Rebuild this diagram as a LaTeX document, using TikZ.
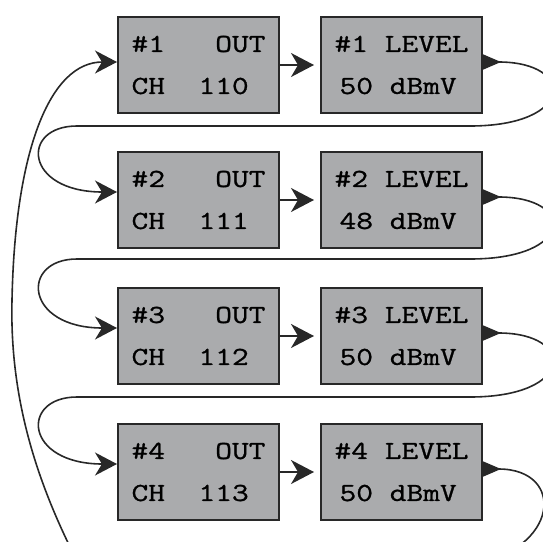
\documentclass[tikz,border=0pt]{standalone}
\usepackage{fontspec}
\usetikzlibrary{arrows.meta}
\setmonofont[FakeStretch=1.25,FakeBold=1]{Latin Modern Mono}
\definecolor{boxgray}{RGB}{170,171,173}
\definecolor{linegray}{RGB}{40,40,40}

\tikzset{
  chbox/.style={draw=linegray, line width=2pt, fill=boxgray,
    minimum width=161pt, minimum height=96pt, inner sep=0pt, align=left,
    font=\ttfamily\fontsize{26}{42}\selectfont},
  feed/.style={draw=linegray, line width=1.6pt,
    -{Stealth[length=23pt,width=24pt,inset=7pt]}},
  wrap/.style={feed,
    {Triangle[reversed,length=18pt,width=15pt]}-{Stealth[length=22pt,width=23pt,inset=7pt]}}
}

\begin{document}
\begin{tikzpicture}[x=1pt,y=-1pt]
                \path[use as bounding box, clip] (0,0) rectangle (543,541);

                \node [chbox] (O1) at (198.5,65) {\#1\ \ \ OUT\\CH\ \ 110};
                \node [chbox] (L1) at (401.5,65) {\#1 LEVEL\\\hspace{5pt}50 dBmV};
                \node [chbox] (O2) at (198.5,200) {\#2\ \ \ OUT\\CH\ \ 111};
                \node [chbox] (L2) at (401.5,200) {\#2 LEVEL\\\hspace{5pt}48 dBmV};
                \node [chbox] (O3) at (198.5,336) {\#3\ \ \ OUT\\CH\ \ 112};
                \node [chbox] (L3) at (401.5,336) {\#3 LEVEL\\\hspace{5pt}50 dBmV};
                \node [chbox] (O4) at (198.5,472) {\#4\ \ \ OUT\\CH\ \ 113};
                \node [chbox] (L4) at (401.5,472) {\#4 LEVEL\\\hspace{5pt}50 dBmV};

                \foreach \k in {1,...,4}
                  \draw[feed, shorten >=6pt] (O\k) -- (L\k);

                \foreach \a/\b/\y in {1/2/126, 2/3/259, 3/4/397}
                  \draw[wrap] ([yshift=3pt]L\a.east) .. controls +(93,0) and +(105,0) .. (470,\y)
                    -- (77,\y) .. controls +(-57,0) and +(-93,0) .. ([yshift=8pt]O\b.west);

                \draw[wrap] ([yshift=3pt]L4.east) .. controls +(83,0) and (560,550) .. (470,565)
                  -- (110,620) .. controls (50,520) and (9,420) .. (12,300)
                  .. controls (15,150) and (50,62) .. ([yshift=3pt]O1.west);
                \end{tikzpicture}
\end{document}
